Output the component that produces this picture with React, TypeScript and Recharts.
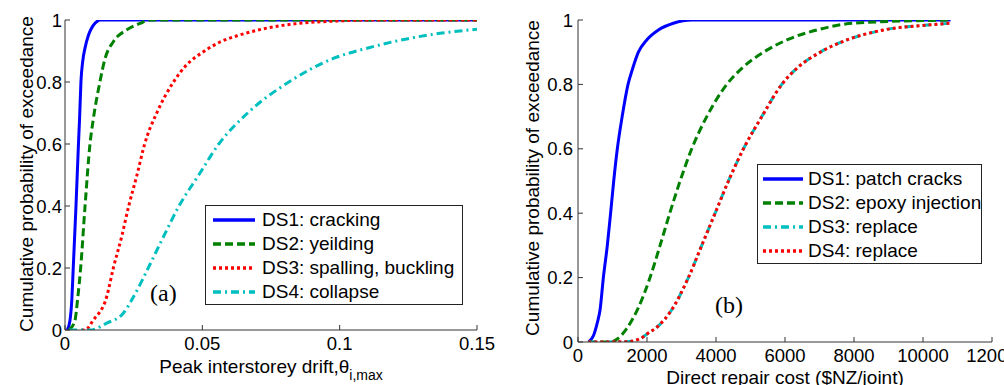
import { LineChart, Line, XAxis, YAxis } from "recharts";

// ─── Data ─────────────────────────────────────────────────────────────────────

// (a) drift fragility curves
const driftDs1X = [0.0008, 0.0018, 0.0025, 0.003, 0.004, 0.0049, 0.0053, 0.0058, 0.0065, 0.0073, 0.0085, 0.0097, 0.011, 0.0127, 0.15];
const driftDs1P = [0, 0.03, 0.1, 0.2, 0.4, 0.6, 0.68, 0.8, 0.87, 0.91, 0.95, 0.974, 0.99, 1, 1];

const driftDs2X = [0.0015, 0.0036, 0.0046, 0.0057, 0.0073, 0.0091, 0.0103, 0.0127, 0.0146, 0.0176, 0.0224, 0.0273, 0.031, 0.15];
const driftDs2P = [0, 0.03, 0.1, 0.2, 0.4, 0.6, 0.68, 0.8, 0.876, 0.93, 0.968, 0.989, 1, 1];

const driftDs3X = [0.006, 0.0073, 0.0103, 0.0152, 0.0176, 0.0206, 0.0232, 0.0262, 0.029, 0.0334, 0.0395, 0.0437, 0.0508, 0.0567, 0.0637, 0.073, 0.085, 0.097, 0.112, 0.15];
const driftDs3P = [0, 0, 0.032, 0.108, 0.2, 0.3, 0.4, 0.5, 0.6, 0.7, 0.8, 0.85, 0.9, 0.93, 0.952, 0.973, 0.989, 0.996, 1, 1];

const driftDs4X = [0.0015, 0.0091, 0.0152, 0.0212, 0.025, 0.0303, 0.0358, 0.0415, 0.0487, 0.056, 0.0665, 0.0815, 0.0977, 0.11, 0.1244, 0.1365, 0.15];
const driftDs4P = [0, 0, 0.022, 0.054, 0.108, 0.2, 0.3, 0.4, 0.5, 0.6, 0.7, 0.8, 0.876, 0.909, 0.939, 0.957, 0.97];

// (b) repair cost curves
const costDs1X = [300, 450, 560, 640, 735, 850, 945, 1035, 1140, 1280, 1450, 1586, 1750, 1992, 2330, 2765, 3300, 10800];
const costDs1P = [0, 0.02, 0.06, 0.1, 0.2, 0.3, 0.4, 0.5, 0.6, 0.7, 0.8, 0.85, 0.9, 0.938, 0.969, 0.99, 1, 1];

const costDs2X = [300, 950, 1150, 1400, 1720, 2088, 2379, 2660, 2959, 3297, 3732, 4313, 4748, 5376, 6053, 6924, 7987, 10800];
const costDs2P = [0, 0, 0.01, 0.04, 0.1, 0.2, 0.3, 0.4, 0.5, 0.6, 0.7, 0.8, 0.85, 0.9, 0.938, 0.969, 0.99, 1];

const costDs3X = [300, 1400, 1800, 2000, 2330, 2717, 3200, 3587, 3974, 4361, 4796, 5328, 5908, 6343, 7020, 7794, 8858, 10205, 10800];
const costDs3P = [0, 0.001, 0.01, 0.025, 0.05, 0.1, 0.2, 0.3, 0.4, 0.5, 0.6, 0.7, 0.8, 0.85, 0.9, 0.938, 0.969, 0.985, 0.99];

const costDs4X = [300, 1400, 1800, 2000, 2330, 2717, 3200, 3587, 3974, 4361, 4796, 5328, 5908, 6343, 7020, 7794, 8858, 10205, 10800];
const costDs4P = [0, 0.001, 0.01, 0.025, 0.05, 0.1, 0.2, 0.3, 0.4, 0.5, 0.6, 0.7, 0.8, 0.85, 0.9, 0.938, 0.969, 0.985, 0.99];

const probTicks = [0, 0.2, 0.4, 0.6, 0.8, 1];
const driftTicks = [0, 0.05, 0.1, 0.15];
const costTicks = [0, 2000, 4000, 6000, 8000, 10000, 12000];

const driftLabels = ["DS1: cracking", "DS2: yeilding", "DS3: spalling, buckling", "DS4: collapse"];
const costLabels = ["DS1: patch cracks", "DS2: epoxy injection", "DS3: replace", "DS4: replace"];

// ─── Styles ───────────────────────────────────────────────────────────────────

const FONT = "'Liberation Sans', Arial, sans-serif";
const FS = 18.5;   // tick labels
const FT = 19;     // titles + legend
const AXIS = "#333";

const BLUE = { stroke: "#0000ff", dash: undefined as string | undefined };
const GREEN = { stroke: "#008000", dash: "8 4" };
const RED = { stroke: "#ff0000", dash: "3 3" };
const CYAN = { stroke: "#00bfbf", dash: "8 4 2 4" };

function zip(xs: number[], ps: number[]) {
  return xs.map((x, i) => ({ x, p: ps[i] }));
}

const tickStyle = { fontSize: FS, fill: "#000", fontFamily: FONT };

function DriftTitle({ viewBox }: any) {
  const cx = viewBox.x + viewBox.width / 2;
  return (
    <text x={cx} y={373} textAnchor="middle" fontFamily={FONT} fontSize={FT} fill="#000">
      Peak interstorey drift,θ
      <tspan fontSize={14} dy={7}>i,max</tspan>
    </text>
  );
}

function CostTitle({ viewBox }: any) {
  const cx = viewBox.x + viewBox.width / 2;
  return (
    <text x={cx} y={384} textAnchor="middle" fontFamily={FONT} fontSize={FT} fill="#000">
      Direct repair cost ($NZ/joint)
    </text>
  );
}

function ProbTitle({ x, cy }: any) {
  return (
    <text
      x={x} y={cy}
      transform={`rotate(-90 ${x} ${cy})`}
      textAnchor="middle"
      fontFamily={FONT} fontSize={FT} fill="#000"
    >
      Cumulative probability of exceedance
    </text>
  );
}

function LegendBox({ left, top, width, padLeft, sample, gap, items }: {
  left: number; top: number; width: number; padLeft: number; sample: number; gap: number;
  items: { label: string; stroke: string; dash?: string }[];
}) {
  return (
    <div style={{
      position: "absolute", left, top, width, height: 100, boxSizing: "border-box",
      border: "1px solid #222", background: "#fff", paddingTop: 2,
      fontFamily: FONT, fontSize: FT, color: "#000",
    }}>
      {items.map((it, i) => (
        <div key={i} style={{ display: "flex", alignItems: "center", height: 24, paddingLeft: padLeft - 1 }}>
          <svg width={sample} height={10} style={{ flexShrink: 0 }}>
            <line x1={0} y1={5} x2={sample} y2={5} stroke={it.stroke} strokeWidth={3.5} strokeDasharray={it.dash} />
          </svg>
          <span style={{ marginLeft: gap, whiteSpace: "nowrap", lineHeight: "24px" }}>{it.label}</span>
        </div>
      ))}
    </div>
  );
}

function series(data: { x: number; p: number }[], s: { stroke: string; dash?: string }, key: string) {
  return (
    <Line
      key={key}
      data={data}
      dataKey="p"
      type="monotone"
      stroke={s.stroke}
      strokeWidth={3}
      strokeDasharray={s.dash}
      dot={false}
      activeDot={false}
      isAnimationActive={false}
    />
  );
}

export default function App() {
  const fmt = (v: number) => String(v);
  return (
    <div style={{ position: "absolute", left: 0, top: 0, width: 1004, height: 385, background: "#fff", overflow: "hidden" }}>
      {/* (a) */}
      <div style={{ position: "absolute", left: 0, top: 0 }}>
        <LineChart width={500} height={385} margin={{ top: 20, right: 23, bottom: 0, left: 0 }}>
          <XAxis
            dataKey="x" type="number" domain={[0, 0.15]} ticks={driftTicks} allowDataOverflow
            interval={0} tickFormatter={fmt} height={55} tickSize={-5} tickMargin={12}
            stroke={AXIS} tick={tickStyle} label={<DriftTitle />}
          />
          <XAxis xAxisId="top" orientation="top" dataKey="x" type="number" domain={[0, 0.15]} ticks={driftTicks}
            allowDataOverflow height={0} tickSize={-5} tick={false} stroke={AXIS} />
          <YAxis
            type="number" domain={[0, 1]} ticks={probTicks} allowDataOverflow interval={0}
            tickFormatter={fmt} width={65} tickSize={-5} tickMargin={8}
            stroke={AXIS} tick={tickStyle} label={<ProbTitle x={26} cy={174} />}
          />
          <YAxis yAxisId="right" orientation="right" type="number" domain={[0, 1]} ticks={probTicks}
            allowDataOverflow width={0} tickSize={-5} tick={false} stroke={AXIS} />
          {series(zip(driftDs1X, driftDs1P), BLUE, "d1")}
          {series(zip(driftDs2X, driftDs2P), GREEN, "d2")}
          {series(zip(driftDs3X, driftDs3P), RED, "d3")}
          {series(zip(driftDs4X, driftDs4P), CYAN, "d4")}
        </LineChart>
        <div style={{ position: "absolute", left: 150, top: 277, fontFamily: "'Liberation Serif', serif", fontSize: 24, lineHeight: "32px" }}>
          (a)
        </div>
        <LegendBox
          left={205} top={205} width={258} padLeft={8} sample={42} gap={7}
          items={[
            { label: driftLabels[0], ...BLUE },
            { label: driftLabels[1], ...GREEN },
            { label: driftLabels[2], ...RED },
            { label: driftLabels[3], ...CYAN },
          ]}
        />
      </div>

      {/* (b) */}
      <div style={{ position: "absolute", left: 500, top: 0 }}>
        <LineChart width={504} height={385} margin={{ top: 20, right: 12, bottom: 0, left: 0 }}>
          <XAxis
            dataKey="x" type="number" domain={[0, 12000]} ticks={costTicks} allowDataOverflow
            interval={0} tickFormatter={fmt} height={43} tickSize={-5} tickMargin={12}
            stroke={AXIS} tick={tickStyle} label={<CostTitle />}
          />
          <XAxis xAxisId="top" orientation="top" dataKey="x" type="number" domain={[0, 12000]} ticks={costTicks}
            allowDataOverflow height={0} tickSize={-5} tick={false} stroke={AXIS} />
          <YAxis
            type="number" domain={[0, 1]} ticks={probTicks} allowDataOverflow interval={0}
            tickFormatter={fmt} width={78} tickSize={-5} tickMargin={10}
            stroke={AXIS} tick={tickStyle} label={<ProbTitle x={37} cy={178} />}
          />
          <YAxis yAxisId="right" orientation="right" type="number" domain={[0, 1]} ticks={probTicks}
            allowDataOverflow width={0} tickSize={-5} tick={false} stroke={AXIS} />
          {series(zip(costDs1X, costDs1P), BLUE, "c1")}
          {series(zip(costDs2X, costDs2P), GREEN, "c2")}
          {series(zip(costDs3X, costDs3P), CYAN, "c3")}
          {series(zip(costDs4X, costDs4P), RED, "c4")}
        </LineChart>
        <div style={{ position: "absolute", left: 215, top: 289, fontFamily: "'Liberation Serif', serif", fontSize: 24, lineHeight: "32px" }}>
          (b)
        </div>
        <LegendBox
          left={257} top={164} width={225} padLeft={6} sample={40} gap={5}
          items={[
            { label: costLabels[0], ...BLUE },
            { label: costLabels[1], ...GREEN },
            { label: costLabels[2], ...CYAN },
            { label: costLabels[3], ...RED },
          ]}
        />
      </div>
    </div>
  );
}
